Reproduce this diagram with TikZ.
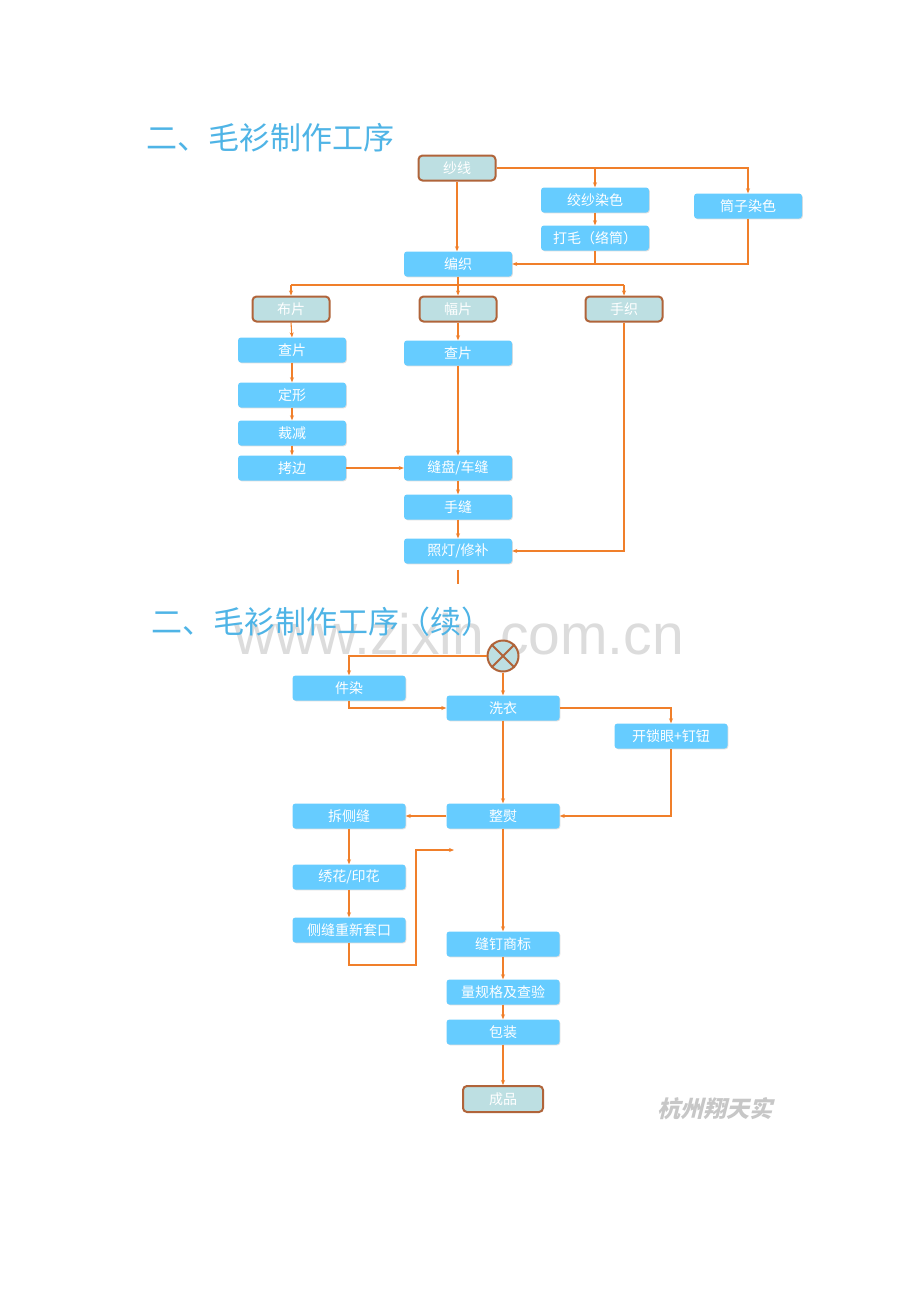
\documentclass[tikz,border=0pt]{standalone}
\usepackage{fontspec}
\setmainfont{Noto Sans CJK SC}
\newfontfamily\wmfont{Liberation Sans}
\usetikzlibrary{shadows,arrows.meta}
\definecolor{boxblue}{HTML}{66CCFF}
\definecolor{tealfill}{HTML}{BDDFE2}
\definecolor{brownline}{HTML}{B0643A}
\definecolor{orangeline}{HTML}{F07F2A}
\definecolor{titleblue}{HTML}{4FB4E6}
\definecolor{wmgray}{HTML}{DCDCDC}
\begin{document}
\begin{tikzpicture}[x=1pt,y=-1pt,
  procbox/.style={rectangle,rounded corners=3pt,fill=boxblue,text=white,font=\fontsize{14}{14}\selectfont,minimum width=108pt,minimum height=25pt,inner sep=0pt,drop shadow={shadow xshift=0.8pt,shadow yshift=-0.8pt,opacity=0.25}},
  procboxw/.style={procbox,minimum width=113pt},
  termbox/.style={rectangle,rounded corners=4pt,fill=tealfill,draw=brownline,line width=2pt,text=white,font=\fontsize{14}{14}\selectfont,minimum width=77pt,minimum height=25pt,inner sep=0pt},
  conn/.style={draw=orangeline,line width=1.1pt},
  arr/.style={conn,-{Stealth[length=5pt,width=4pt]}},
  titletext/.style={text=titleblue,font=\fontsize{31}{31}\selectfont,anchor=west,inner sep=0pt}
]
\useasboundingbox[fill=white] (0,0) rectangle (920,1302);
% watermark
\node[text=wmgray,font=\wmfont\fontsize{57}{57}\selectfont,anchor=center,inner sep=0pt] (wm) at (459,634) {www.zixin.com.cn};
% titles
\node[titletext] (t1) at (146,138) {二、毛衫制作工序};
\node[titletext] (t2) at (151,622) {二、毛衫制作工序（续）};

% ---------- part 1 ----------
\node[termbox] (sx) at (457,168) {纱线};
\node[procbox] (jsrs) at (595,200) {绞纱染色};
\node[procbox] (tzrs) at (748,206) {筒子染色};
\node[procbox] (dm) at (595,238) {打毛（络筒）};
\node[procbox] (bz) at (458,264) {编织};
\node[termbox] (bp) at (291,309) {布片};
\node[termbox] (fp) at (458,309) {幅片};
\node[termbox] (sz) at (624,309) {手织};
\node[procbox] (cp1) at (292,350) {查片};
\node[procbox] (dx) at (292,395) {定形};
\node[procbox] (cj) at (292,433) {裁减};
\node[procbox] (kb) at (292,468) {拷边};
\node[procbox] (cp2) at (458,353) {查片};
\node[procbox] (fpc) at (458,468) {缝盘/车缝};
\node[procbox] (sf) at (458,507) {手缝};
\node[procbox] (zd) at (458,551) {照灯/修补};
\coordinate (zdend) at (458,584);

\draw[arr] (sx.east) -- (748,168) -- (tzrs.north);
\draw[arr] (595,168) -- (jsrs.north);
\draw[arr] (sx.south) -- (bz.north -| sx.south);
\draw[arr] (jsrs.south) -- (dm.north);
\draw[conn] (dm.south) -- (595,264);
\draw[arr] (tzrs.south) -- (748,264) -- (bz.east);
\draw[conn] (bz.south) -- (458,285);
\draw[arr] (291,285) -- (bp.north);
\draw[arr] (624,285) -- (sz.north);
\draw[conn] (291,285) -- (624,285);
\draw[arr] (458,285) -- (fp.north);
\draw[arr] (bp.south) -- (cp1.north);
\draw[arr] (cp1.south) -- (dx.north);
\draw[arr] (dx.south) -- (cj.north);
\draw[arr] (cj.south) -- (kb.north);
\draw[arr] (fp.south) -- (cp2.north);
\draw[arr] (cp2.south) -- (fpc.north);
\draw[arr] (kb.east) -- (fpc.west);
\draw[arr] (fpc.south) -- (sf.north);
\draw[arr] (sf.south) -- (zd.north);
\draw[arr] (sz.south) -- (624,551) -- (zd.east);
\draw[conn] ([yshift=-6pt]zd.south) -- (zdend);

% ---------- part 2 ----------
\node[circle,fill=tealfill,draw=brownline,line width=2pt,minimum size=31pt,inner sep=0pt] (cx) at (503,656) {};
\draw[brownline,line width=2pt] (cx.45) -- (cx.225) (cx.135) -- (cx.-45);
\node[procboxw] (jr) at (349,688) {件染};
\node[procboxw] (xy) at (503,708) {洗衣};
\node[procboxw] (ksy) at (671,736) {开锁眼+钉钮};
\node[procboxw] (zy) at (503,816) {整熨};
\node[procboxw] (ccf) at (349,816) {拆侧缝};
\node[procboxw] (xh) at (349,877) {绣花/印花};
\node[procboxw] (cfcx) at (349,930) {侧缝重新套口};
\node[procboxw] (fdsb) at (503,944) {缝钉商标};
\node[procboxw] (lgg) at (503,992) {量规格及查验};
\node[procboxw] (bzh) at (503,1032) {包装};
\node[termbox,minimum width=80pt,minimum height=26pt] (cp) at (503,1099) {成品};
\coordinate (loopend) at (454,850);

\draw[arr] (cx.west) -- (349,656) -- (jr.north);
\draw[arr] (cx.south) -- (xy.north);
\draw[arr] (jr.south) -- (349,708) -- (xy.west);
\draw[arr] (xy.east) -- (671,708) -- (ksy.north);
\draw[arr] (ksy.south) -- (671,816) -- (zy.east);
\draw[arr] (xy.south) -- (zy.north);
\draw[arr] (zy.west) -- (ccf.east);
\draw[arr] (ccf.south) -- (xh.north);
\draw[arr] (xh.south) -- (cfcx.north);
\draw[arr] (cfcx.south) -- (349,965) -- (416,965) -- (416,850) -- (loopend);
\draw[arr] (zy.south) -- (fdsb.north);
\draw[arr] (fdsb.south) -- (lgg.north);
\draw[arr] (lgg.south) -- (bzh.north);
\draw[arr] (bzh.south) -- (cp.north);

% company text (clipped at the right)
\begin{scope}
\clip (640,1090) rectangle (778,1128);
\node[text=black!22,font=\bfseries\fontsize{23}{23}\selectfont,anchor=west,inner sep=0pt,xslant=0.25] (co) at (659,1109) {杭州翔天实};
\end{scope}
\end{tikzpicture}
\end{document}
